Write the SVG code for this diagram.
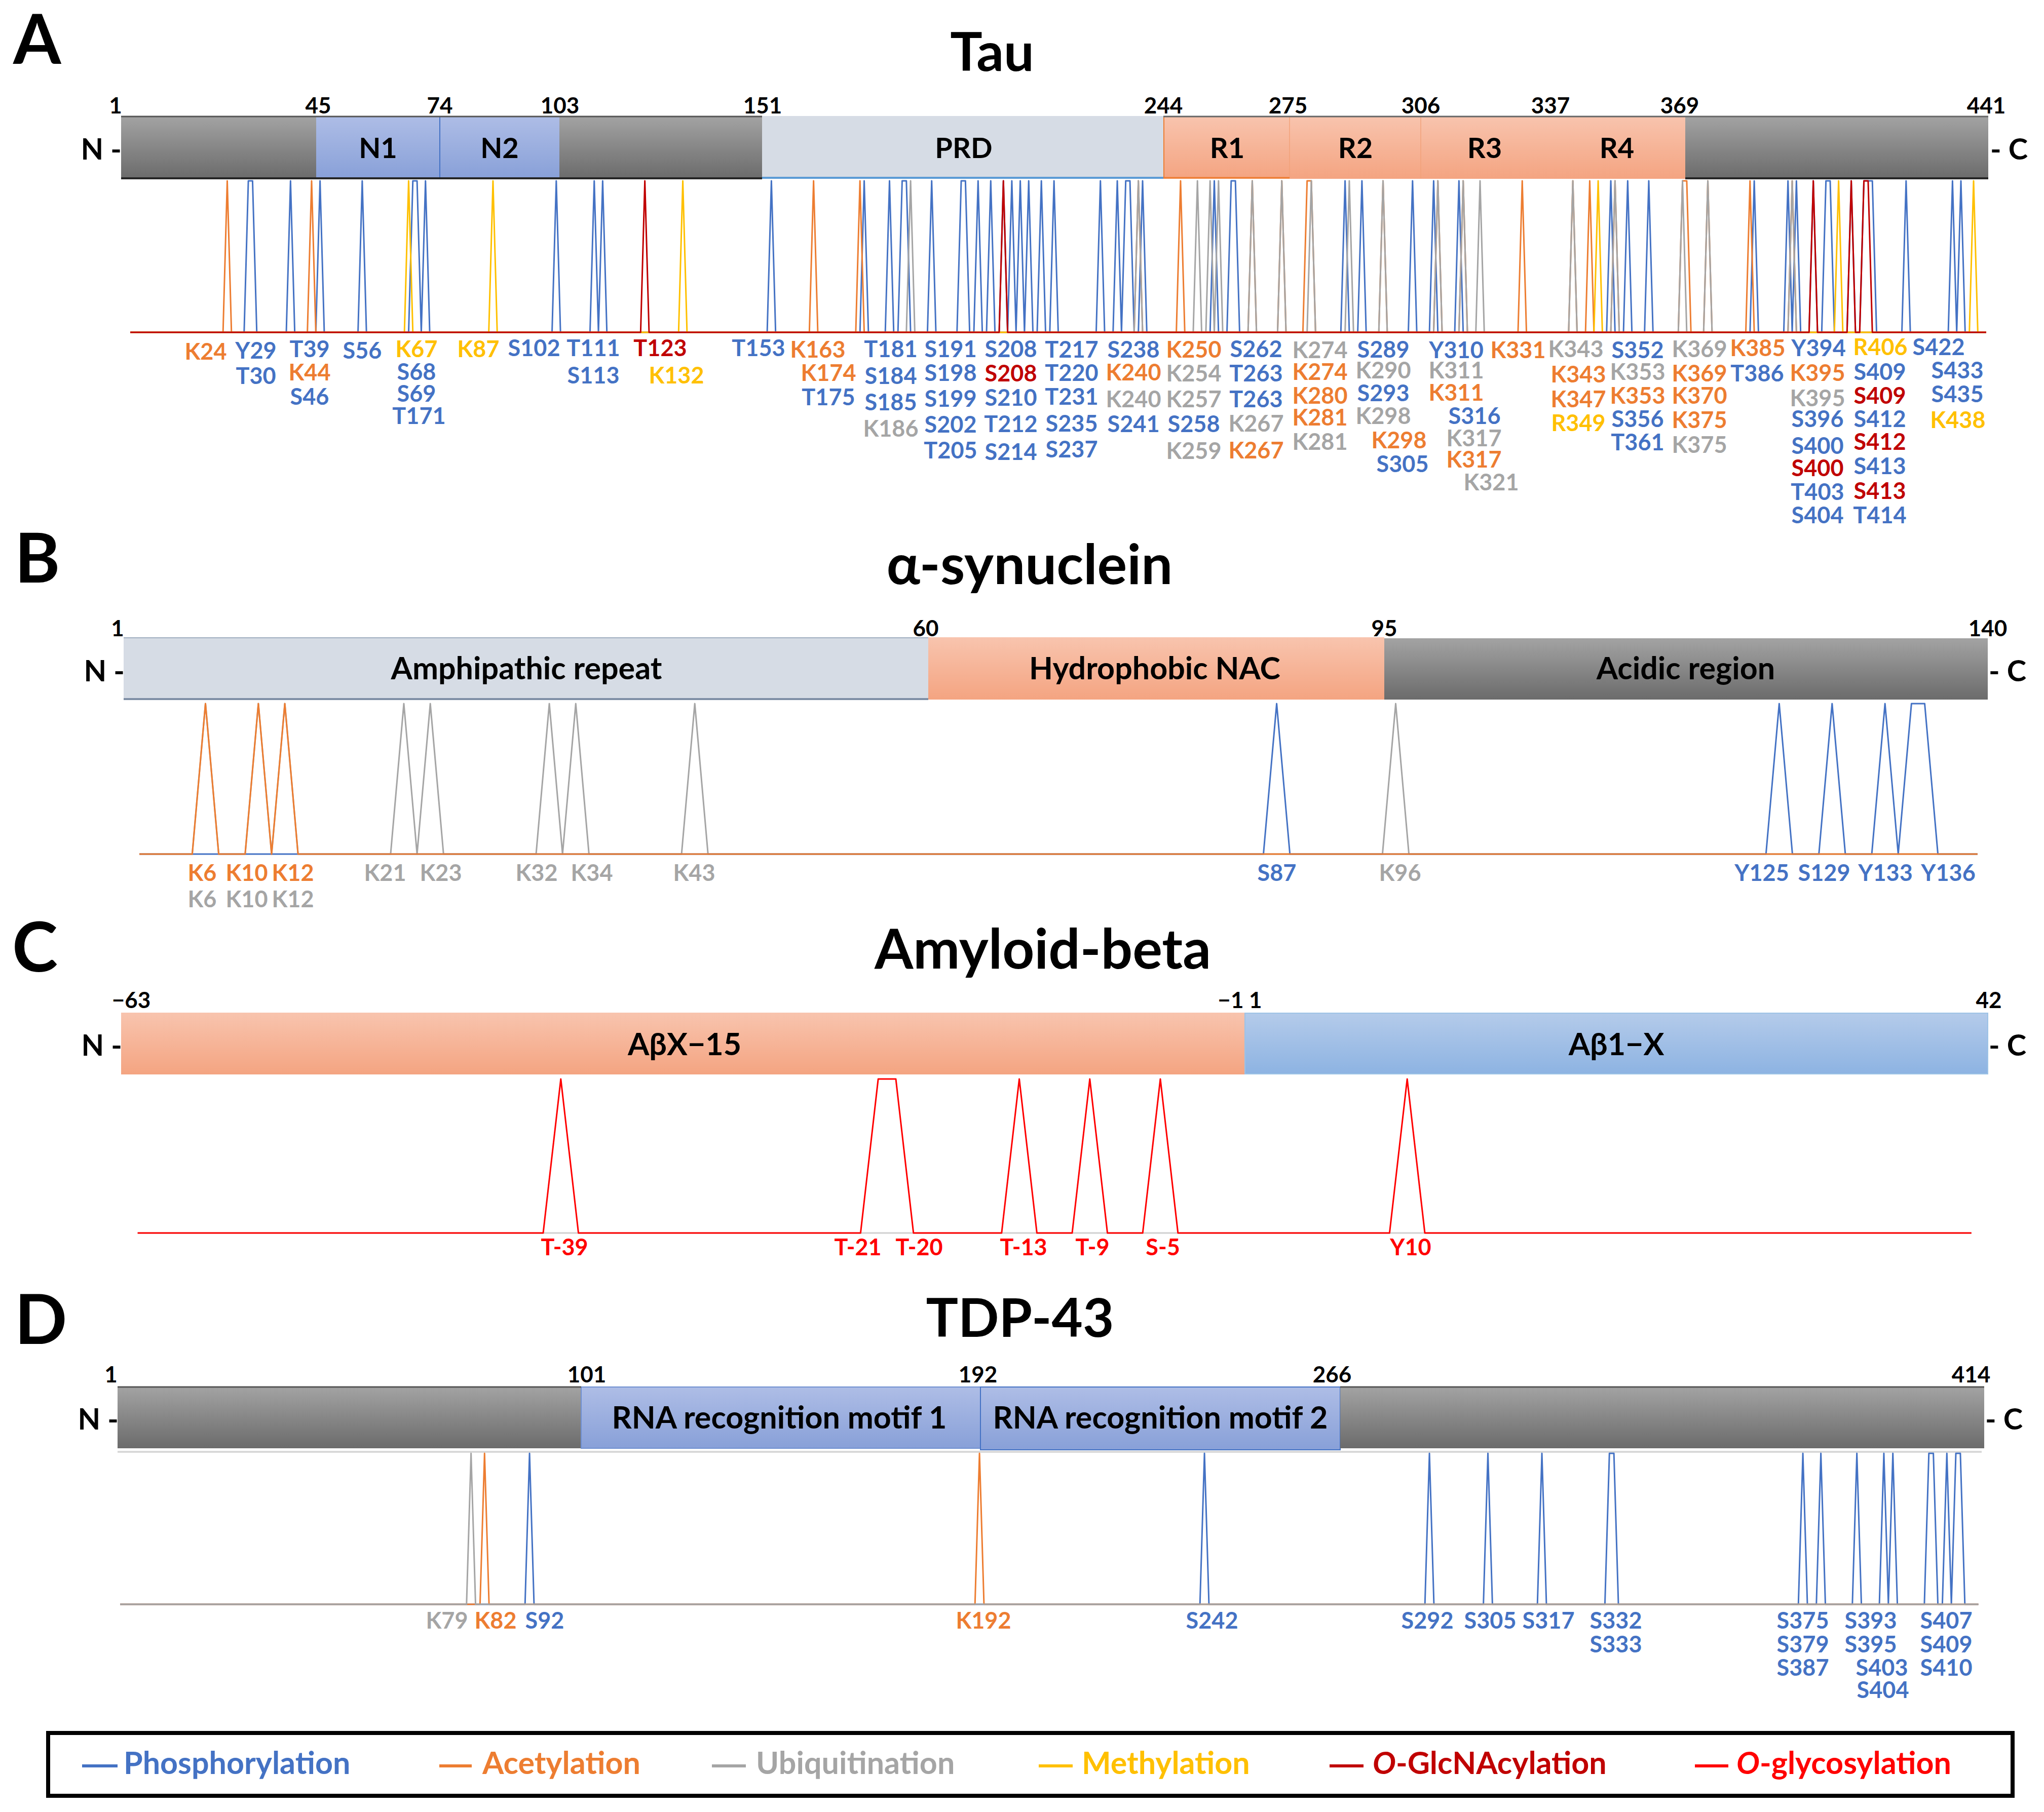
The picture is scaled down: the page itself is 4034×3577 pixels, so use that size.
<svg xmlns="http://www.w3.org/2000/svg" width="4034" height="3577" viewBox="0 0 4034 3577">
<defs>
<linearGradient id="gG" x1="0" y1="0" x2="0" y2="1"><stop offset="0" stop-color="#a3a3a3"/><stop offset="1" stop-color="#6b6b6b"/></linearGradient>
<linearGradient id="bG" x1="0" y1="0" x2="0" y2="1"><stop offset="0" stop-color="#aebde6"/><stop offset="1" stop-color="#88a0d8"/></linearGradient>
<linearGradient id="sG" x1="0" y1="0" x2="0" y2="1"><stop offset="0" stop-color="#f8c4ae"/><stop offset="1" stop-color="#f4a481"/></linearGradient>
<linearGradient id="aG" x1="0" y1="0" x2="0" y2="1"><stop offset="0" stop-color="#b4cbea"/><stop offset="1" stop-color="#8db3e2"/></linearGradient>
<style>
text{font-family:Lato,"Liberation Sans",sans-serif;font-weight:bold;fill:#000}
.sec{font-size:136px}
.ttl{font-size:106px;text-anchor:middle}
.ttl2{font-size:110px;text-anchor:middle}
.num{font-size:44px;text-anchor:middle}
.dom{font-size:56px;text-anchor:middle}
.dom2{font-size:61px;text-anchor:middle}
.nc{font-size:58px}
.lbl{font-size:45px;text-anchor:middle}
.p{fill:#4472c4}.a{fill:#ed7d31}.u{fill:#a5a5a5}.m{fill:#ffc000}.g{fill:#c00000}.r{fill:#ff0000}
.sp{fill:none;stroke-width:3;vector-effect:non-scaling-stroke;stroke-linejoin:round}
.sb{stroke:#4472c4}.so{stroke:#ed7d31}.su{stroke:#a5a5a5}.sy{stroke:#ffc000}.sg{stroke:#c00000}.sr{stroke:#ff0000}
.leg{font-size:61px}
</style>
</defs>
<rect width="4034" height="3577" fill="#fff"/>

<!-- ===== A: Tau ===== -->
<g id="tau">
<text class="sec" x="26" y="126">A</text>
<text class="ttl" x="1958" y="140">Tau</text>
<g id="tau-bar">
<rect x="239" y="229" width="385" height="124" fill="url(#gG)"/>
<rect x="624" y="229" width="480" height="124" fill="url(#bG)"/>
<line x1="868" y1="229" x2="868" y2="353" stroke="#4472c4" stroke-width="2"/>
<rect x="1104" y="229" width="400" height="124" fill="url(#gG)"/>
<rect x="1504" y="229" width="792" height="124" fill="#d6dce5"/>
<line x1="1504" y1="351" x2="2296" y2="351" stroke="#5b9bd5" stroke-width="4"/>
<rect x="2296" y="229" width="1030" height="124" fill="url(#sG)"/>
<line x1="2297" y1="230" x2="2297" y2="352" stroke="#ed7d31" stroke-width="2"/>
<line x1="2545" y1="230" x2="2545" y2="352" stroke="#f2a27a" stroke-width="1.5"/>
<line x1="2804" y1="230" x2="2804" y2="352" stroke="#f2a27a" stroke-width="1.5"/>
<line x1="2296" y1="351" x2="2545" y2="351" stroke="#ed7d31" stroke-width="3"/>
<rect x="3326" y="229" width="598" height="124" fill="url(#gG)"/>
<line x1="239" y1="230" x2="1504" y2="230" stroke="#555" stroke-width="3"/>
<line x1="239" y1="352" x2="1504" y2="352" stroke="#262626" stroke-width="4"/>
<line x1="2296" y1="230" x2="3924" y2="230" stroke="#666" stroke-width="3"/>
<line x1="3326" y1="352" x2="3924" y2="352" stroke="#262626" stroke-width="4"/>
<text class="nc" x="240" y="315" text-anchor="end">N -</text>
<text class="nc" x="3928" y="315">- C</text>
<text class="dom" x="746" y="312">N1</text>
<text class="dom" x="986" y="312">N2</text>
<text class="dom" x="1902" y="312">PRD</text>
<text class="dom" x="2422" y="312">R1</text>
<text class="dom" x="2675" y="312">R2</text>
<text class="dom" x="2930" y="312">R3</text>
<text class="dom" x="3191" y="312">R4</text>
<text class="num" x="228" y="224">1</text>
<text class="num" x="628" y="224">45</text>
<text class="num" x="868" y="224">74</text>
<text class="num" x="1105" y="224">103</text>
<text class="num" x="1505" y="224">151</text>
<text class="num" x="2296" y="224">244</text>
<text class="num" x="2542" y="224">275</text>
<text class="num" x="2804" y="224">306</text>
<text class="num" x="3060" y="224">337</text>
<text class="num" x="3315" y="224">369</text>
<text class="num" x="3920" y="224">441</text>
</g>
<g id="tau-sites" transform="translate(248.675,0) scale(8.325,1)">
<path class="sp sb" d="M1,656 H28 L29,357 L30,357 L31,656 H38 L39,357 L40,656 H45 L46,357 L47,656 H55 L56,357 L57,656 H67 L68,357 L69,357 L70,656 L71,357 L72,656 H101 L102,357 L103,656 H110 L111,357 L112,656 L113,357 L114,656 H152 L153,357 L154,656 H174 L175,357 L176,656 H180 L181,357 L182,656 H183 L184,357 L185,357 L186,656 H190 L191,357 L192,656 H197 L198,357 L199,357 L200,656 H201 L202,357 L203,656 H204 L205,357 L206,656 H207 L208,357 L209,656 L210,357 L211,656 L212,357 L213,656 L214,357 L215,656 H216 L217,357 L218,656 H219 L220,357 L221,656 H230 L231,357 L232,656 H234 L235,357 L236,656 L237,357 L238,357 L239,656 H240 L241,357 L242,656 H257 L258,357 L259,656 H261 L262,357 L263,357 L264,656 H288 L289,357 L290,656 H292 L293,357 L294,656 H304 L305,357 L306,656 H309 L310,357 L311,656 H315 L316,357 L317,656 H351 L352,357 L353,656 H355 L356,357 L357,656 H360 L361,357 L362,656 H385 L386,357 L387,656 H393 L394,357 L395,656 L396,357 L397,656 H399 L400,357 L401,656 H402 L403,357 L404,357 L405,656 H408 L409,357 L410,656 H411 L412,357 L413,357 L414,357 L415,656 H421 L422,357 L423,656 H432 L433,357 L434,656 L435,357 L436,656 H441"/>
<path class="sp so" d="M1,656 H23 L24,357 L25,656 H43 L44,357 L45,656 H162 L163,357 L164,656 H173 L174,357 L175,656 H239 L240,357 L241,656 H249 L250,357 L251,656 H266 L267,357 L268,656 H273 L274,357 L275,656 H279 L280,357 L281,357 L282,656 H297 L298,357 L299,656 H310 L311,357 L312,656 H316 L317,357 L318,656 H330 L331,357 L332,656 H342 L343,357 L344,656 H346 L347,357 L348,656 H352 L353,357 L354,656 H368 L369,357 L370,357 L371,656 H374 L375,357 L376,656 H384 L385,357 L386,656 H394 L395,357 L396,656 H441"/>
<path class="sp su" d="M1,656 H185 L186,357 L187,656 H239 L240,357 L241,656 H253 L254,357 L255,656 H256 L257,357 L258,656 L259,357 L260,656 H266 L267,357 L268,656 H273 L274,357 L275,656 H280 L281,357 L282,656 H289 L290,357 L291,656 H297 L298,357 L299,656 H310 L311,357 L312,656 H316 L317,357 L318,656 H320 L321,357 L322,656 H342 L343,357 L344,656 H352 L353,357 L354,656 H368 L369,357 L370,656 H374 L375,357 L376,656 H394 L395,357 L396,656 H441"/>
<path class="sp sy" d="M1,656 H66 L67,357 L68,656 H86 L87,357 L88,656 H131 L132,357 L133,656 H348 L349,357 L350,656 H405 L406,357 L407,656 H437 L438,357 L439,656 H441"/>
<path class="sp sg" d="M1,656 H122 L123,357 L124,656 H207 L208,357 L209,656 H399 L400,357 L401,656 H408 L409,357 L410,656 H411 L412,357 L413,357 L414,656 H441"/>
</g>
<g id="tau-labels">
<text class="lbl a" x="406" y="710">K24</text>
<text class="lbl p" x="505" y="708">Y29</text>
<text class="lbl p" x="505" y="758">T30</text>
<text class="lbl p" x="611" y="705">T39</text>
<text class="lbl a" x="611" y="751">K44</text>
<text class="lbl p" x="611" y="799">S46</text>
<text class="lbl p" x="715" y="708">S56</text>
<text class="lbl m" x="822" y="705">K67</text>
<text class="lbl p" x="822" y="750">S68</text>
<text class="lbl p" x="822" y="793">S69</text>
<text class="lbl p" x="827" y="837">T171</text>
<text class="lbl m" x="944" y="705">K87</text>
<text class="lbl p" x="1054" y="703">S102</text>
<text class="lbl p" x="1171" y="703">T111</text>
<text class="lbl p" x="1171" y="757">S113</text>
<text class="lbl g" x="1303" y="703">T123</text>
<text class="lbl m" x="1335" y="757">K132</text>
<text class="lbl p" x="1497" y="703">T153</text>
<text class="lbl a" x="1614" y="706">K163</text>
<text class="lbl a" x="1635" y="752">K174</text>
<text class="lbl p" x="1635" y="800">T175</text>
<text class="lbl p" x="1758" y="705">T181</text>
<text class="lbl p" x="1758" y="758">S184</text>
<text class="lbl p" x="1758" y="810">S185</text>
<text class="lbl u" x="1758" y="862">K186</text>
<text class="lbl p" x="1876" y="705">S191</text>
<text class="lbl p" x="1876" y="752">S198</text>
<text class="lbl p" x="1876" y="803">S199</text>
<text class="lbl p" x="1876" y="854">S202</text>
<text class="lbl p" x="1876" y="905">T205</text>
<text class="lbl p" x="1995" y="705">S208</text>
<text class="lbl g" x="1995" y="753">S208</text>
<text class="lbl p" x="1995" y="801">S210</text>
<text class="lbl p" x="1995" y="853">T212</text>
<text class="lbl p" x="1995" y="908">S214</text>
<text class="lbl p" x="2115" y="706">T217</text>
<text class="lbl p" x="2115" y="752">T220</text>
<text class="lbl p" x="2115" y="799">T231</text>
<text class="lbl p" x="2115" y="852">S235</text>
<text class="lbl p" x="2115" y="903">S237</text>
<text class="lbl p" x="2237" y="706">S238</text>
<text class="lbl a" x="2237" y="751">K240</text>
<text class="lbl u" x="2237" y="804">K240</text>
<text class="lbl p" x="2237" y="853">S241</text>
<text class="lbl a" x="2356" y="706">K250</text>
<text class="lbl u" x="2356" y="753">K254</text>
<text class="lbl u" x="2356" y="804">K257</text>
<text class="lbl p" x="2356" y="853">S258</text>
<text class="lbl u" x="2356" y="906">K259</text>
<text class="lbl p" x="2479" y="705">S262</text>
<text class="lbl p" x="2479" y="753">T263</text>
<text class="lbl p" x="2479" y="804">T263</text>
<text class="lbl u" x="2479" y="852">K267</text>
<text class="lbl a" x="2479" y="905">K267</text>
<text class="lbl u" x="2605" y="707">K274</text>
<text class="lbl a" x="2605" y="750">K274</text>
<text class="lbl a" x="2605" y="797">K280</text>
<text class="lbl a" x="2605" y="840">K281</text>
<text class="lbl u" x="2605" y="888">K281</text>
<text class="lbl p" x="2730" y="706">S289</text>
<text class="lbl u" x="2730" y="747">K290</text>
<text class="lbl p" x="2730" y="792">S293</text>
<text class="lbl u" x="2730" y="837">K298</text>
<text class="lbl a" x="2761" y="885">K298</text>
<text class="lbl p" x="2768" y="932">S305</text>
<text class="lbl p" x="2874" y="707">Y310</text>
<text class="lbl u" x="2874" y="747">K311</text>
<text class="lbl a" x="2874" y="791">K311</text>
<text class="lbl p" x="2910" y="837">S316</text>
<text class="lbl u" x="2909" y="881">K317</text>
<text class="lbl a" x="2909" y="923">K317</text>
<text class="lbl u" x="2943" y="968">K321</text>
<text class="lbl a" x="2996" y="707">K331</text>
<text class="lbl u" x="3110" y="705">K343</text>
<text class="lbl a" x="3115" y="755">K343</text>
<text class="lbl a" x="3115" y="804">K347</text>
<text class="lbl m" x="3115" y="851">R349</text>
<text class="lbl p" x="3232" y="707">S352</text>
<text class="lbl u" x="3232" y="750">K353</text>
<text class="lbl a" x="3232" y="797">K353</text>
<text class="lbl p" x="3232" y="843">S356</text>
<text class="lbl p" x="3232" y="889">T361</text>
<text class="lbl u" x="3354" y="705">K369</text>
<text class="lbl a" x="3354" y="753">K369</text>
<text class="lbl a" x="3354" y="797">K370</text>
<text class="lbl a" x="3354" y="845">K375</text>
<text class="lbl u" x="3354" y="894">K375</text>
<text class="lbl a" x="3469" y="703">K385</text>
<text class="lbl p" x="3468" y="753">T386</text>
<text class="lbl p" x="3589" y="703">Y394</text>
<text class="lbl a" x="3587" y="752">K395</text>
<text class="lbl u" x="3587" y="802">K395</text>
<text class="lbl p" x="3587" y="843">S396</text>
<text class="lbl p" x="3587" y="896">S400</text>
<text class="lbl g" x="3587" y="940">S400</text>
<text class="lbl p" x="3587" y="987">T403</text>
<text class="lbl p" x="3587" y="1033">S404</text>
<text class="lbl m" x="3711" y="701">R406</text>
<text class="lbl p" x="3710" y="750">S409</text>
<text class="lbl g" x="3710" y="797">S409</text>
<text class="lbl p" x="3710" y="843">S412</text>
<text class="lbl g" x="3710" y="888">S412</text>
<text class="lbl p" x="3710" y="936">S413</text>
<text class="lbl g" x="3710" y="985">S413</text>
<text class="lbl p" x="3710" y="1033">T414</text>
<text class="lbl p" x="3826" y="701">S422</text>
<text class="lbl p" x="3863" y="747">S433</text>
<text class="lbl p" x="3863" y="794">S435</text>
<text class="lbl m" x="3864" y="845">K438</text>
</g>
</g>

<!-- ===== B: alpha-synuclein ===== -->
<g id="asyn">
<text class="sec" x="29" y="1150">B</text>
<text class="ttl2" x="2032" y="1153">α-synuclein</text>
<g id="asyn-bar">
<rect x="244" y="1258" width="1588" height="123" fill="#d6dce5"/>
<line x1="244" y1="1259" x2="1832" y2="1259" stroke="#a0aec0" stroke-width="2"/>
<line x1="244" y1="1380" x2="1832" y2="1380" stroke="#7f8fa6" stroke-width="4"/>
<rect x="1832" y="1258" width="900" height="123" fill="url(#sG)"/>
<rect x="2732" y="1260" width="1191" height="121" fill="url(#gG)"/>
<text class="nc" x="246" y="1345" text-anchor="end">N -</text>
<text class="nc" x="3925" y="1345">- C</text>
<text class="dom2" x="1039" y="1341">Amphipathic repeat</text>
<text class="dom2" x="2279" y="1341">Hydrophobic NAC</text>
<text class="dom2" x="3327" y="1341">Acidic region</text>
<text class="num" x="232" y="1256">1</text>
<text class="num" x="1827" y="1256">60</text>
<text class="num" x="2732" y="1256">95</text>
<text class="num" x="3923" y="1256">140</text>
</g>
<g id="asyn-sites" transform="translate(248.9,0) scale(26.1,1)">
<path class="sp su" d="M1,1686 H5 L6,1389 L7,1686 H9 L10,1389 L11,1686 L12,1389 L13,1686 H20 L21,1389 L22,1686 L23,1389 L24,1686 H31 L32,1389 L33,1686 L34,1389 L35,1686 H42 L43,1389 L44,1686 H95 L96,1389 L97,1686 H140"/>
<path class="sp sb" d="M1,1686 H86 L87,1389 L88,1686 H124 L125,1389 L126,1686 H128 L129,1389 L130,1686 H132 L133,1389 L134,1686 L135,1389 L136,1389 L137,1686 H140"/>
<path class="sp so" d="M1,1686 H5 L6,1389 L7,1686 H9 L10,1389 L11,1686 L12,1389 L13,1686 H140"/>
</g>
<g id="asyn-labels">
<text class="lbl a" x="399" y="1739">K6</text>
<text class="lbl u" x="399" y="1791">K6</text>
<text class="lbl a" x="487" y="1739">K10</text>
<text class="lbl u" x="487" y="1791">K10</text>
<text class="lbl a" x="578" y="1739">K12</text>
<text class="lbl u" x="578" y="1791">K12</text>
<text class="lbl u" x="760" y="1739">K21</text>
<text class="lbl u" x="870" y="1739">K23</text>
<text class="lbl u" x="1059" y="1739">K32</text>
<text class="lbl u" x="1168" y="1739">K34</text>
<text class="lbl u" x="1370" y="1739">K43</text>
<text class="lbl p" x="2520" y="1739">S87</text>
<text class="lbl u" x="2763" y="1739">K96</text>
<text class="lbl p" x="3477" y="1739">Y125</text>
<text class="lbl p" x="3600" y="1739">S129</text>
<text class="lbl p" x="3721" y="1739">Y133</text>
<text class="lbl p" x="3845" y="1739">Y136</text>
</g>
</g>

<!-- ===== C: Amyloid-beta ===== -->
<g id="abeta">
<text class="sec" x="24" y="1918">C</text>
<text class="ttl2" x="2058" y="1912">Amyloid-beta</text>
<g id="abeta-bar">
<rect x="239" y="1999" width="2218" height="122" fill="url(#sG)"/>
<rect x="2457" y="2000" width="1466" height="120" fill="url(#aG)" stroke="#9dc3e6" stroke-width="2"/>
<text class="nc" x="241" y="2084" text-anchor="end">N -</text>
<text class="nc" x="3925" y="2084">- C</text>
<text class="dom2" x="1351" y="2083">AβX−15</text>
<text class="dom2" x="3190" y="2083">Aβ1−X</text>
<text class="num" x="259" y="1990">−63</text>
<text class="num" x="2447" y="1990">−1 1</text>
<text class="num" x="3925" y="1990">42</text>
</g>
<g id="abeta-sites" transform="translate(2464,0) scale(34.8,1)">
<path class="sp" stroke="#d0d0d0" d="M-63,2434 H41"/>
<path class="sp sr" d="M-63,2434 H-40 L-39,2130 L-38,2434 H-22 L-21,2130 L-20,2130 L-19,2434 H-14 L-13,2130 L-12,2434 H-10 L-9,2130 L-8,2434 H-6 L-5,2130 L-4,2434 H8 L9,2130 L10,2434 H41"/>
</g>
<g id="abeta-labels">
<text class="lbl r" x="1114" y="2478">T-39</text>
<text class="lbl r" x="1693" y="2478">T-21</text>
<text class="lbl r" x="1814" y="2478">T-20</text>
<text class="lbl r" x="2020" y="2478">T-13</text>
<text class="lbl r" x="2156" y="2478">T-9</text>
<text class="lbl r" x="2295" y="2478">S-5</text>
<text class="lbl r" x="2784" y="2478">Y10</text>
</g>
</g>

<!-- ===== D: TDP-43 ===== -->
<g id="tdp43">
<text class="sec" x="29" y="2653">D</text>
<text class="ttl" x="2013" y="2639">TDP-43</text>
<g id="tdp-bar">
<rect x="232" y="2737" width="915" height="122" fill="url(#gG)"/>
<rect x="1147" y="2738" width="788" height="121" fill="url(#bG)" stroke="#6f8fd0" stroke-width="2"/>
<rect x="1935" y="2738" width="710" height="124" fill="url(#bG)" stroke="#4472c4" stroke-width="2"/>
<rect x="2645" y="2737" width="1271" height="122" fill="url(#gG)"/>
<line x1="232" y1="2738" x2="1147" y2="2738" stroke="#555" stroke-width="3"/>
<line x1="2645" y1="2738" x2="3916" y2="2738" stroke="#555" stroke-width="3"/>
<text class="nc" x="234" y="2822" text-anchor="end">N -</text>
<text class="nc" x="3918" y="2822">- C</text>
<text class="dom2" x="1538" y="2820">RNA recognition motif 1</text>
<text class="dom2" x="2290" y="2820">RNA recognition motif 2</text>
<text class="num" x="219" y="2729">1</text>
<text class="num" x="1158" y="2729">101</text>
<text class="num" x="1930" y="2729">192</text>
<text class="num" x="2629" y="2729">266</text>
<text class="num" x="3890" y="2729">414</text>
</g>
<line x1="232" y1="2866" x2="3911" y2="2866" stroke="#d9d9d9" stroke-width="4"/>
<g id="tdp-sites" transform="translate(228.12,0) scale(8.88,1)">
<path class="sp sb" d="M1,3167 H91 L92,2869 L93,3167 H241 L242,2869 L243,3167 H291 L292,2869 L293,3167 H304 L305,2869 L306,3167 H316 L317,2869 L318,3167 H331 L332,2869 L333,2869 L334,3167 H374 L375,2869 L376,3167 H378 L379,2869 L380,3167 H386 L387,2869 L388,3167 H392 L393,2869 L394,3167 L395,2869 L396,3167 H402 L403,2869 L404,2869 L405,3167 H406 L407,2869 L408,3167 L409,2869 L410,2869 L411,3167 H414"/>
<path class="sp so" d="M1,3167 H81 L82,2869 L83,3167 H191 L192,2869 L193,3167 H414"/>
<path class="sp su" d="M1,3167 H78 L79,2869 L80,3167 H414"/>
</g>
<g id="tdp-labels">
<text class="lbl u" x="882" y="3215">K79</text>
<text class="lbl a" x="978" y="3215">K82</text>
<text class="lbl p" x="1075" y="3215">S92</text>
<text class="lbl a" x="1941" y="3215">K192</text>
<text class="lbl p" x="2392" y="3215">S242</text>
<text class="lbl p" x="2817" y="3215">S292</text>
<text class="lbl p" x="2941" y="3215">S305</text>
<text class="lbl p" x="3056" y="3215">S317</text>
<text class="lbl p" x="3189" y="3215">S332</text>
<text class="lbl p" x="3189" y="3262">S333</text>
<text class="lbl p" x="3558" y="3215">S375</text>
<text class="lbl p" x="3558" y="3262">S379</text>
<text class="lbl p" x="3558" y="3308">S387</text>
<text class="lbl p" x="3692" y="3215">S393</text>
<text class="lbl p" x="3692" y="3262">S395</text>
<text class="lbl p" x="3714" y="3308">S403</text>
<text class="lbl p" x="3716" y="3352">S404</text>
<text class="lbl p" x="3841" y="3215">S407</text>
<text class="lbl p" x="3841" y="3262">S409</text>
<text class="lbl p" x="3841" y="3308">S410</text>
</g>
</g>

<!-- ===== Legend ===== -->
<g id="legend">
<rect x="95" y="3421" width="3877" height="124" fill="#fff" stroke="#000" stroke-width="8"/>
<line x1="162" y1="3486" x2="232" y2="3486" stroke="#4472c4" stroke-width="6"/>
<text class="leg p" x="244" y="3502">Phosphorylation</text>
<line x1="867" y1="3486" x2="931" y2="3486" stroke="#ed7d31" stroke-width="6"/>
<text class="leg a" x="952" y="3502">Acetylation</text>
<line x1="1405" y1="3486" x2="1472" y2="3486" stroke="#a5a5a5" stroke-width="6"/>
<text class="leg u" x="1492" y="3502">Ubiquitination</text>
<line x1="2050" y1="3486" x2="2117" y2="3486" stroke="#ffc000" stroke-width="6"/>
<text class="leg m" x="2135" y="3502">Methylation</text>
<line x1="2624" y1="3486" x2="2691" y2="3486" stroke="#c00000" stroke-width="6"/>
<text class="leg g" x="2709" y="3502"><tspan font-style="italic">O</tspan>-GlcNAcylation</text>
<line x1="3345" y1="3486" x2="3411" y2="3486" stroke="#ff0000" stroke-width="6"/>
<text class="leg r" x="3427" y="3502"><tspan font-style="italic">O</tspan>-glycosylation</text>
</g>
</svg>
